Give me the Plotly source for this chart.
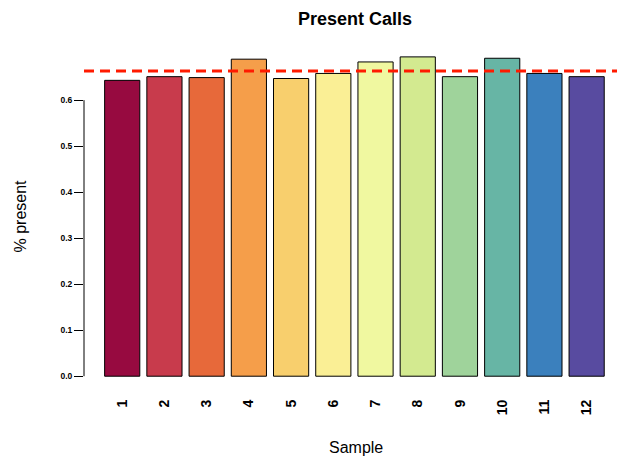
import plotly.graph_objects as go

samples = [str(i) for i in range(1, 13)]
present = [0.643, 0.651, 0.649, 0.689, 0.647, 0.658, 0.683, 0.694, 0.651, 0.691, 0.658, 0.651]
colors = ["#970A40", "#C83B4C", "#E7693A", "#F59E4A", "#F8CF6D", "#FAEF95",
          "#F0F8A0", "#D3EA90", "#9FD39B", "#67B5A5", "#3B80BD", "#584BA0"]
threshold = 0.6635
yticks = [0.0, 0.1, 0.2, 0.3, 0.4, 0.5, 0.6]

xpos = list(range(1, len(samples) + 1))

fig = go.Figure()
fig.add_trace(go.Bar(
    x=xpos, y=present, width=0.833,
    marker=dict(color=colors, line=dict(color="black", width=1)),
    hoverinfo="x+y",
))

fig.add_shape(type="line", xref="paper", yref="y", x0=0, x1=1, y0=threshold, y1=threshold,
              line=dict(color="#FF1A00", width=3, dash="10px,6px"))
fig.add_shape(type="line", xref="paper", yref="y", x0=0, x1=0, y0=0, y1=0.6,
              line=dict(color="black", width=1))

fig.update_layout(
    width=617, height=457,
    margin=dict(l=84, r=0, t=44, b=68),
    paper_bgcolor="white", plot_bgcolor="white",
    showlegend=False,
    font=dict(family="Liberation Sans, Arial, sans-serif", color="black"),
    xaxis=dict(range=[0.095, 12.719], tickmode="array", tickvals=xpos,
               ticktext=[f"<b>{s}</b>" for s in samples],
               tickangle=-90, ticks="", showgrid=False, zeroline=False, showline=False,
               tickfont=dict(size=14), ticklabelstandoff=7),
    yaxis=dict(range=[-0.0278, 0.722], tickmode="array", tickvals=yticks,
               ticktext=[f"<b>{v:.1f}</b>" for v in yticks],
               ticks="outside", ticklen=9, tickcolor="black", tickwidth=1,
               showgrid=False, zeroline=False, showline=False,
               tickfont=dict(size=8.5, family="Liberation Sans, Arial, sans-serif")),
    annotations=[
        dict(text="<b>Present Calls</b>", xref="paper", yref="paper", x=0.508, y=1,
             yshift=25, xanchor="center", yanchor="middle", showarrow=False,
             font=dict(size=18)),
        dict(text="Sample", xref="paper", yref="paper", x=0.51, y=0, yshift=-58,
             xanchor="center", yanchor="middle", showarrow=False, font=dict(size=16)),
        dict(text="% present", xref="paper", yref="paper", x=0, xshift=-64, y=0.5,
             xanchor="center", yanchor="middle", textangle=-90, showarrow=False,
             font=dict(size=16)),
    ],
)

fig.write_html("out.html")
